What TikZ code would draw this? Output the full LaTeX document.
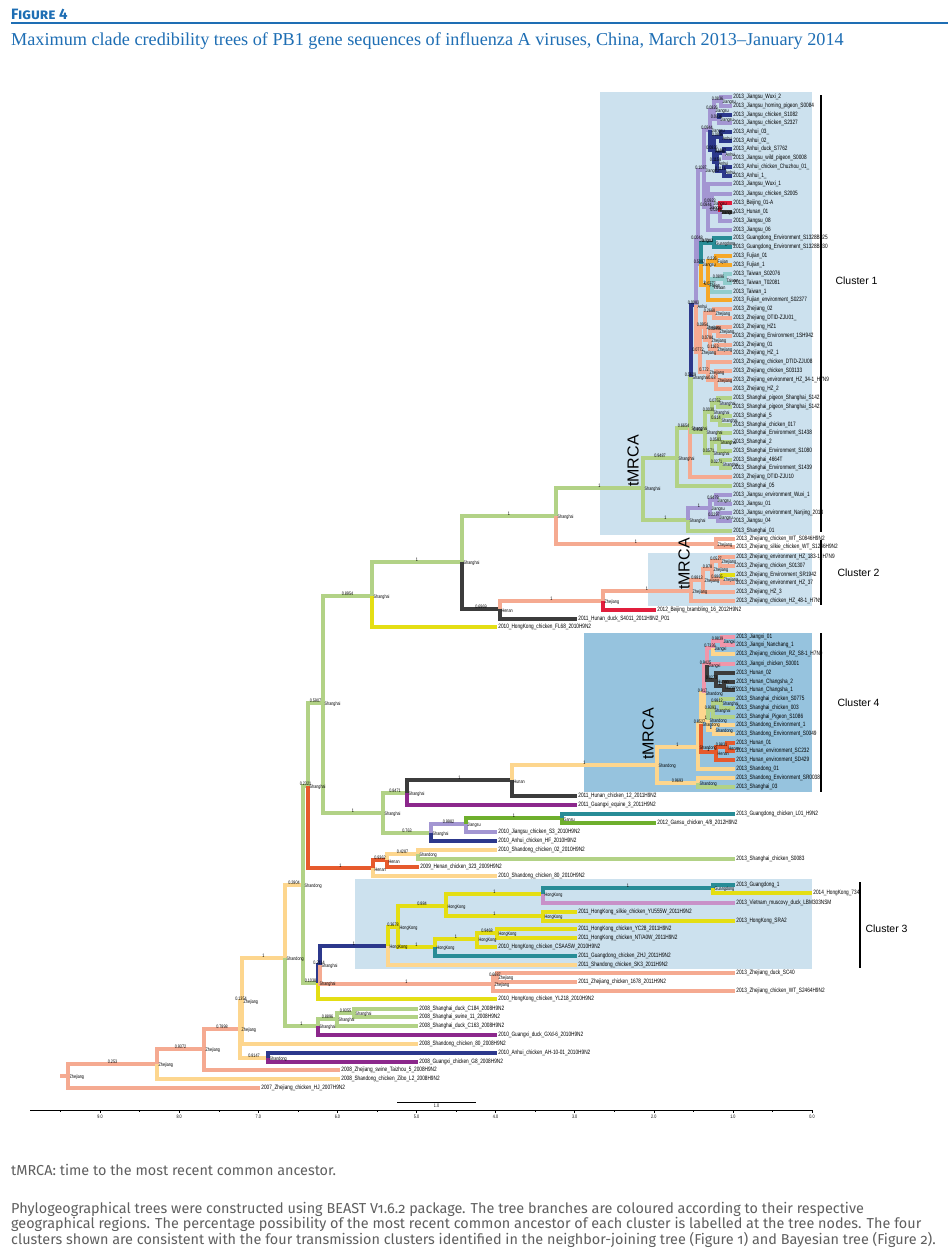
\documentclass[tikz,border=0pt]{standalone}
\usepackage{fontspec}
\setmainfont{Liberation Sans}
\newfontfamily\treefont[FakeStretch=0.75]{Liberation Sans}
\newfontfamily\headfont{Fira Sans}
\newfontfamily\notefont[Numbers=OldStyle]{Fira Sans}
\newfontfamily\subfont{Liberation Serif}

\definecolor{shc}{RGB}{178,210,134}
\definecolor{zjc}{RGB}{245,170,145}
\definecolor{sdc}{RGB}{253,214,142}
\definecolor{jsc}{RGB}{163,150,210}
\definecolor{ahc}{RGB}{44,56,140}
\definecolor{hnc}{RGB}{60,60,60}
\definecolor{hkc}{RGB}{228,222,20}
\definecolor{gxc}{RGB}{140,40,140}
\definecolor{hec}{RGB}{230,90,45}
\definecolor{bjc}{RGB}{225,30,60}
\definecolor{gdc}{RGB}{40,140,150}
\definecolor{gsc}{RGB}{110,175,45}
\definecolor{fjc}{RGB}{246,168,40}
\definecolor{twc}{RGB}{145,205,205}
\definecolor{jxc}{RGB}{240,150,170}
\definecolor{vnc}{RGB}{200,145,200}
\definecolor{boxa}{RGB}{204,225,238}
\definecolor{boxb}{RGB}{150,195,222}
\definecolor{figblue}{RGB}{30,110,180}
\definecolor{notegray}{RGB}{95,95,95}

\pgfdeclarelayer{fg}
\pgfsetlayers{main,fg}

% leaf: name, x, y, colour, parent, text
\newcommand{\tip}[6]{%
  \node[leaf] (#1) at (#2,#3) {#6};
  \draw[br,#4] (#5) |- (#1.west);}
% inner node: name, x, y, colour, parent, posterior, state
\newcommand{\clade}[7]{%
  \coordinate (#1) at (#2,#3);
  \draw[br,#4] (#5) |- (#1);
  \begin{pgfonlayer}{fg}
    \path (#5) |- node[post]{#6} (#1);
    \node[state] at (#1) {#7};
  \end{pgfonlayer}}

\begin{document}
\begin{tikzpicture}[x=1pt,y=-1pt]
    \tikzstyle{br}=[line width=3.4pt]
    \tikzstyle{leaf}=[anchor=west,inner sep=1.2pt,font=\treefont\fontsize{6.3}{6.5}\selectfont]
    \tikzstyle{post}=[pos=0.75,above,inner sep=0.6pt,font=\treefont\fontsize{5}{5}\selectfont]
    \tikzstyle{state}=[anchor=west,xshift=1pt,yshift=-1.5pt,inner sep=0.5pt,font=\treefont\fontsize{5}{5}\selectfont]
    \tikzstyle{clab}=[anchor=west,font=\fontsize{10.5}{12}\selectfont]
    \tikzstyle{tm}=[rotate=90,inner sep=0pt,font=\fontsize{16}{16}\selectfont]
    \tikzstyle{bar}=[line width=1.3pt]
    \tikzstyle{note}=[inner sep=0pt,text=notegray,font=\notefont\fontsize{14.4}{15}\selectfont]
    \useasboundingbox (0,0) rectangle (950,1250);
    \fill[white] (0,0) rectangle (950,1250);

    % heading
    \node[anchor=west,inner sep=0pt,text=figblue,font=\headfont\bfseries\fontsize{15}{16}\selectfont] (fig) at (11,14) {\textsc{Figure 4}};
    \draw[figblue,line width=1.6pt] (11,23) -- (948,23);
    \node[anchor=west,inner sep=0pt,text=figblue,font=\subfont\fontsize{18.2}{19}\selectfont] (subt) at (11,41)
      {Maximum clade credibility trees of PB1 gene sequences of influenza A viruses, China, March 2013–January 2014};

    % cluster boxes
    \fill[boxa] (600,92) rectangle (812,535);
    \fill[boxa] (648,553) rectangle (812,606);
    \fill[boxb] (584,633) rectangle (812,792);
    \fill[boxa] (355,879) rectangle (812,969);

    % backbone
    \coordinate (r00) at (60,1076);
    \coordinate (r0) at (68,1076);
    \draw[br,zjc] (r00) -- (r0);
    \node[state] at (r0) {Zhejiang};
    \clade{n1}{157}{1064}{zjc}{r0}{0.253}{Zhejiang}
    \tip{t2007}{260}{1088}{zjc}{r0}{2007\_Zhejiang\_chicken\_HJ\_2007H9N2}
    \clade{n2}{204}{1049}{zjc}{n1}{0.9372}{Zhejiang}
    \tip{tzibo}{340}{1079}{sdc}{n1}{2008\_Shandong\_chicken\_Zibo\_L2\_2008H9N2}
    \clade{n3}{240}{1029}{zjc}{n2}{0.7898}{Zhejiang}
    \tip{ttaiz}{340}{1070}{zjc}{n2}{2008\_Zhejiang\_swine\_Taizhou\_5\_2008H9N2}
    \clade{n4}{242}{1001}{sdc}{n3}{0.1354}{Zhejiang}
    \clade{n6}{268}{1058}{sdc}{n3}{0.8147}{Shandong}
    \tip{tah10}{497}{1053}{ahc}{n6}{2010\_Anhui\_chicken\_AH-10-01\_2010H9N2}
    \tip{tgx8}{418}{1062}{gxc}{n6}{2008\_Guangxi\_chicken\_G8\_2008H9N2}
    \clade{n5}{285}{958}{sdc}{n4}{1}{Shandong}
    \tip{tsd80}{418}{1044}{sdc}{n4}{2008\_Shandong\_chicken\_80\_2008H9N2}
    \clade{n7}{303}{885}{sdc}{n5}{0.2804}{Shandong}
    \clade{n9}{318}{1026}{shc}{n5}{1}{Shanghai}
    \clade{n9a}{337}{1019}{shc}{n9}{0.8896}{Shanghai}
    \tip{tgxd6}{497}{1035}{gxc}{n9}{2010\_Guangxi\_duck\_GXd-6\_2010H9N2}
    \clade{n9b}{354}{1013}{shc}{n9a}{0.9355}{Shanghai}
    \tip{tc163}{418}{1026}{shc}{n9a}{2008\_Shanghai\_duck\_C163\_2008H9N2}
    \tip{tc184}{418}{1009}{shc}{n9b}{2008\_Shanghai\_duck\_C184\_2008H9N2}
    \tip{tsw11}{418}{1017}{shc}{n9b}{2008\_Shanghai\_swine\_11\_2008H9N2}

    % towards cluster 3
    \clade{n10}{318}{983}{shc}{n7}{0.1038}{Shanghai}
    \clade{n10b}{320}{965}{ahc}{n10}{0.2114}{Shanghai}
    \tip{tyl218}{497}{999}{hkc}{n10}{2010\_HongKong\_chicken\_YL218\_2010H9N2}
    \clade{n12}{493}{984}{zjc}{n10b}{1}{Zhejiang}
    \clade{n12a}{497}{977}{zjc}{n12}{0.6687}{Zhejiang}
    \tip{tsc40}{735}{973}{zjc}{n12a}{2013\_Zhejiang\_duck\_SC40}
    \tip{t1678}{577}{982}{zjc}{n12a}{2011\_Zhejiang\_chicken\_1678\_2011H9N2}
    \tip{twt2464}{735}{991}{zjc}{n12}{2013\_Zhejiang\_chicken\_WT\_S2464H9N2}
    \clade{hk1}{388}{946}{ahc}{n10b}{1}{HongKong}
    \clade{hk2}{398}{927}{hkc}{hk1}{0.3678}{HongKong}
    \tip{tsk3}{577}{965}{sdc}{hk1}{2011\_Shandong\_chicken\_SK3\_2011H9N2}
    \clade{hk3}{446}{906}{hkc}{hk2}{0.884}{HongKong}
    \clade{hk4}{435}{947}{hkc}{hk2}{1}{HongKong}
    \clade{hk5}{543}{894}{hkc}{hk3}{1}{HongKong}
    \clade{hk6}{543}{916}{hkc}{hk3}{1}{HongKong}
    \clade{hk7}{713}{888}{gdc}{hk5}{1}{Guangdong}
    \tip{tgd1}{735}{885}{gdc}{hk7}{2013\_Guangdong\_1}
    \tip{thk734}{812}{893}{hkc}{hk7}{2014\_HongKong\_734}
    \tip{tvn}{735}{903}{vnc}{hk5}{2013\_Vietnam\_muscovy\_duck\_LBM303NSM}
    \tip{tyu555}{577}{912}{hkc}{hk6}{2011\_HongKong\_silkie\_chicken\_YU555W\_2011H9N2}
    \tip{tsra2}{735}{921}{hkc}{hk6}{2013\_HongKong\_SRA2}
    \clade{hk8}{477}{939}{hkc}{hk4}{1}{HongKong}
    \tip{tzhj}{577}{956}{gdc}{hk4}{2011\_Guangdong\_chicken\_ZHJ\_2011H9N2}
    \clade{hk9}{497}{933}{hkc}{hk8}{0.9468}{HongKong}
    \tip{tcsaa}{497}{947}{hkc}{hk8}{2010\_HongKong\_chicken\_CSAA5W\_2010H9N2}
    \tip{tyc28}{577}{929}{hkc}{hk9}{2011\_HongKong\_chicken\_YC28\_2011H9N2}
    \tip{tnta}{577}{938}{hkc}{hk9}{2011\_HongKong\_chicken\_NT/A0W\_2011H9N2}

    % Shanghai lineage
    \clade{A}{308}{786}{shc}{n7}{0.2321}{Shanghai}
    \clade{B}{323}{703}{shc}{A}{0.5907}{Shanghai}
    \clade{h1}{373}{868}{hec}{A}{1}{Henan}
    \clade{h2}{387}{860}{hec}{h1}{0.9362}{Henan}
    \tip{tsd80b}{497}{876}{sdc}{h1}{2010\_Shandong\_chicken\_80\_2010H9N2}
    \clade{h3}{418}{854}{sdc}{h2}{0.4287}{Shandong}
    \tip{the323}{419}{867}{hec}{h2}{2009\_Henan\_chicken\_323\_2009H9N2}
    \tip{tsd02}{497}{850}{sdc}{h3}{2010\_Shandong\_chicken\_02\_2010H9N2}
    \tip{ts0083}{735}{859}{shc}{h3}{2013\_Shanghai\_chicken\_S0083}
    \clade{D}{372}{596}{shc}{B}{0.8954}{Shanghai}
    \clade{C}{383}{813}{shc}{B}{1}{Shanghai}
    \clade{C1}{407}{793}{shc}{C}{0.8471}{Shanghai}
    \clade{C2}{431}{833}{shc}{C}{0.763}{Shanghai}
    \clade{C1a}{512}{780}{hnc}{C1}{1}{Hunan}
    \tip{tgxe3}{577}{805}{gxc}{C1}{2011\_Guangxi\_equine\_3\_2011H9N2}
    \tip{thn12}{577}{796}{hnc}{C1a}{2011\_Hunan\_chicken\_12\_2011H9N2}
    \clade{C3}{466}{824}{jsc}{C2}{0.9982}{Jiangsu}
    \tip{thf}{497}{841}{ahc}{C2}{2010\_Anhui\_chicken\_HF\_2010H9N2}
    \clade{C4}{562}{818}{gsc}{C3}{1}{Gansu}
    \tip{ts3}{497}{832}{jsc}{C3}{2010\_Jiangsu\_chicken\_S3\_2010H9N2}
    \tip{tl01}{735}{814}{gdc}{C4}{2013\_Guangdong\_chicken\_L01\_H9N2}
    \tip{tgs}{656}{823}{gsc}{C4}{2012\_Gansu\_chicken\_4/8\_2012H9N2}

    % cluster 4
    \clade{K0}{657}{765}{sdc}{C1a}{1}{Shandong}
    \clade{K1}{698}{747}{sdc}{K0}{1}{Shandong}
    \clade{K2}{698}{783}{sdc}{K0}{0.9693}{Shandong}
    \tip{tsr38}{735}{778}{sdc}{K2}{2013\_Shandong\_Environment\_SR0038}
    \tip{tsh03}{735}{787}{shc}{K2}{2013\_Shanghai\_03}
    \clade{K3}{701}{724}{sdc}{K1}{0.8527}{Shandong}
    \tip{tsd01}{735}{769}{sdc}{K1}{2013\_Shandong\_01}
    \clade{K4}{704}{693}{sdc}{K3}{0.917}{Shandong}
    \clade{K5}{716}{752}{hec}{K3}{1}{Henan}
    \clade{K5a}{727}{747}{hec}{K5}{0.9831}{Henan}
    \tip{thu01}{735}{743}{hec}{K5a}{2013\_Hunan\_01}
    \tip{tsc232}{735}{751}{hec}{K5a}{2013\_Hunan\_environment\_SC232}
    \tip{tsd429}{735}{760}{hec}{K5}{2013\_Hunan\_environment\_SD429}
    \clade{K6}{707}{665}{jxc}{K4}{0.9425}{Jiangxi}
    \clade{K7}{708}{720}{sdc}{K4}{1}{Shandong}
    \clade{K8}{713}{648}{jxc}{K6}{0.7336}{Jiangxi}
    \clade{K8a}{722}{641}{jxc}{K8}{0.9839}{Jiangxi}
    \tip{tjx01}{735}{637}{jxc}{K8a}{2013\_Jiangxi\_01}
    \tip{tjxn}{735}{645}{jxc}{K8a}{2013\_Jiangxi\_Nanchang\_1}
    \tip{trz}{735}{654}{sdc}{K8}{2013\_Zhejiang\_chicken\_RZ\_S8-1\_H7N9}
    \tip{tjxc}{735}{664}{jxc}{K6}{2013\_Jiangxi\_chicken\_S0001}
    \clade{K9}{716}{680}{hnc}{K6}{0.8273}{Hunan}
    \tip{thu02}{735}{673}{hnc}{K9}{2013\_Hunan\_02}
    \clade{K9a}{724}{686}{hnc}{K9}{1}{Hunan}
    \tip{tcs2}{735}{682}{hnc}{K9a}{2013\_Hunan\_Changsha\_2}
    \tip{tcs1}{735}{690}{hnc}{K9a}{2013\_Hunan\_Changsha\_1}
    \clade{K10}{713}{710}{shc}{K7}{0.9393}{Shanghai}
    \clade{K10a}{721}{703}{shc}{K10}{0.9812}{Shanghai}
    \tip{ts775}{735}{699}{shc}{K10a}{2013\_Shanghai\_chicken\_S0775}
    \tip{ts003}{735}{708}{shc}{K10a}{2013\_Shanghai\_chicken\_003}
    \tip{tspg}{735}{717}{shc}{K10}{2013\_Shanghai\_Pigeon\_S1086}
    \clade{K11}{714}{730}{sdc}{K7}{1}{Shandong}
    \tip{tse1}{735}{725}{sdc}{K11}{2013\_Shandong\_Environment\_1}
    \tip{tse49}{735}{734}{sdc}{K11}{2013\_Shandong\_Environment\_S0049}

    % towards clusters 1 and 2
    \clade{E}{462}{562}{shc}{D}{1}{Shanghai}
    \tip{tfl68}{497}{627}{hkc}{D}{2010\_HongKong\_chicken\_FL68\_2010H9N2}
    \clade{L}{556}{516}{shc}{E}{1}{Shanghai}
    \clade{F}{500}{609}{hnc}{E}{0.6969}{Henan}
    \clade{G}{603}{601}{zjc}{F}{1}{Zhejiang}
    \tip{ts4011}{577}{619}{hnc}{F}{2011\_Hunan\_duck\_S4011\_2011H9N2\_P01}
    \tip{tbj16}{656}{610}{bjc}{G}{2012\_Beijing\_brambling\_16\_2012H9N2}

    % cluster 2
    \clade{H}{691}{591}{zjc}{G}{1}{Zhejiang}
    \clade{H2}{703}{580}{zjc}{H}{0.8813}{Zhejiang}
    \tip{thz48}{735}{601}{zjc}{H}{2013\_Zhejiang\_chicken\_HZ\_48-1\_H7N9}
    \clade{H3}{712}{569}{zjc}{H2}{0.978}{Zhejiang}
    \tip{thz3}{735}{592}{zjc}{H2}{2013\_Zhejiang\_HZ\_3}
    \clade{H4}{720}{561}{zjc}{H3}{0.0527}{Zhejiang}
    \clade{H5}{722}{579}{zjc}{H3}{0.8865}{Zhejiang}
    \tip{t183}{735}{557}{zjc}{H4}{2013\_Zhejiang\_environment\_HZ\_183-1\_H7N9}
    \tip{ts1307}{735}{566}{zjc}{H4}{2013\_Zhejiang\_chicken\_S01307}
    \tip{tsr1942}{735}{575}{hkc}{H5}{2013\_Zhejiang\_Environment\_SR1942}
    \tip{thz37}{735}{583}{zjc}{H5}{2013\_Zhejiang\_environment\_HZ\_37}
    \clade{M}{716}{544}{zjc}{L}{1}{Zhejiang}
    \tip{twt846}{735}{539}{zjc}{M}{2013\_Zhejiang\_chicken\_WT\_S0846H9N2}
    \tip{tsilk}{735}{547}{zjc}{M}{2013\_Zhejiang\_silkie\_chicken\_WT\_S1246H9N2}

    % cluster 1
    \clade{N1}{643}{488}{shc}{L}{1}{Shanghai}
    \clade{O}{677}{458}{shc}{N1}{0.9487}{Shanghai}
    \clade{P1}{688}{520}{shc}{N1}{1}{Shanghai}
    \clade{P2}{710}{508}{jsc}{P1}{1}{Jiangsu}
    \tip{tsh01}{732}{531}{shc}{P1}{2013\_Shanghai\_01}
    \clade{P3}{716}{500}{jsc}{P2}{0.9479}{Jiangsu}
    \clade{P4}{718}{517}{jsc}{P2}{0.2297}{Jiangsu}
    \tip{twx1e}{732}{495}{jsc}{P3}{2013\_Jiangsu\_environment\_Wuxi\_1}
    \tip{tjs01}{732}{504}{jsc}{P3}{2013\_Jiangsu\_01}
    \tip{tnj}{732}{513}{jsc}{P4}{2013\_Jiangsu\_environment\_Nanjing\_2013}
    \tip{tjs04}{732}{521}{jsc}{P4}{2013\_Jiangsu\_04}
    \clade{Q}{690}{428}{shc}{O}{0.6654}{Shanghai}
    \tip{tsh05}{732}{486}{shc}{O}{2013\_Shanghai\_05}
    \clade{R}{691}{377}{shc}{Q}{0.5629}{Shanghai}
    \tip{tzju10}{732}{477}{zjc}{Q}{2013\_Zhejiang\_DTID-ZJU10}
    \clade{S}{705}{432}{shc}{R}{0.958}{Shanghai}
    \clade{S1}{712}{412}{shc}{S}{0.0030}{Shanghai}
    \clade{S2}{712}{453}{shc}{S}{0.0571}{Shanghai}
    \clade{S1a}{718}{403}{shc}{S1}{0.0752}{Shanghai}
    \clade{S1b}{720}{420}{shc}{S1}{0.814}{Shanghai}
    \tip{tpg21}{732}{398}{shc}{S1a}{2013\_Shanghai\_pigeon\_Shanghai\_S1421}
    \tip{tpg23}{732}{407}{shc}{S1a}{2013\_Shanghai\_pigeon\_Shanghai\_S1423}
    \tip{tsh5}{732}{416}{shc}{S1b}{2013\_Shanghai\_5}
    \tip{tch017}{732}{425}{shc}{S1b}{2013\_Shanghai\_chicken\_017}
    \clade{S2a}{719}{442}{shc}{S2}{0.0583}{Shanghai}
    \clade{S2b}{721}{464}{shc}{S2}{0.0271}{Shanghai}
    \tip{te1438}{732}{433}{shc}{S2a}{2013\_Shanghai\_Environment\_S1438}
    \tip{tsh2}{732}{442}{shc}{S2a}{2013\_Shanghai\_2}
    \tip{te1080}{732}{451}{shc}{S2a}{2013\_Shanghai\_Environment\_S1080}
    \tip{t4664}{732}{460}{shc}{S2b}{2013\_Shanghai\_4664T}
    \tip{te1439}{732}{468}{shc}{S2b}{2013\_Shanghai\_Environment\_S1439}
    \clade{R1}{696}{305}{ahc}{R}{0.0083}{Anhui}
    \clade{T}{698}{240}{jsc}{R1}{0.0048}{Jiangsu}
    \clade{Z}{700}{352}{zjc}{R1}{0.0772}{Zhejiang}
    \clade{Z1}{705}{327}{zjc}{Z}{0.0954}{Zhejiang}
    \clade{Z2}{708}{372}{zjc}{Z}{0.772}{Zhejiang}
    \clade{Z1a}{714}{313}{zjc}{Z1}{0.2668}{Zhejiang}
    \tip{tzj02}{732}{309}{zjc}{Z1a}{2013\_Zhejiang\_02}
    \tip{tzju01}{732}{318}{zjc}{Z1a}{2013\_Zhejiang\_DTID-ZJU01\_}
    \clade{Z1b}{710}{340}{zjc}{Z1}{0.0784}{Zhejiang}
    \clade{Z1c}{718}{331}{zjc}{Z1b}{0.2989}{Zhejiang}
    \tip{thz1a}{732}{327}{zjc}{Z1c}{2013\_Zhejiang\_HZ1}
    \tip{tzje}{732}{336}{zjc}{Z1c}{2013\_Zhejiang\_Environment\_1SH942}
    \clade{Z1d}{716}{349}{zjc}{Z1b}{0.1163}{Zhejiang}
    \tip{tzj01}{732}{345}{zjc}{Z1d}{2013\_Zhejiang\_01}
    \tip{thz1}{732}{353}{zjc}{Z1d}{2013\_Zhejiang\_HZ\_1}
    \tip{tzju08}{732}{362}{zjc}{Z2}{2013\_Zhejiang\_chicken\_DTID-ZJU08}
    \clade{Z2a}{716}{380}{zjc}{Z2}{0.68}{Zhejiang}
    \tip{ts3133}{732}{371}{zjc}{Z2a}{2013\_Zhejiang\_chicken\_S03133}
    \tip{thz34}{732}{380}{zjc}{Z2a}{2013\_Zhejiang\_environment\_HZ\_34-1\_H7N9}
    \tip{thz2}{732}{389}{zjc}{Z2a}{2013\_Zhejiang\_HZ\_2}
    \clade{T1}{704}{170}{jsc}{T}{0.1087}{Jiangsu}
    \clade{T2}{701}{264}{jsc}{T}{0.5097}{Jiangsu}
    \clade{T2a}{714}{243}{gdc}{T2}{0.7312}{Guangdong}
    \tip{tgde25}{732}{238}{gdc}{T2a}{2013\_Guangdong\_Environment\_S1328B025}
    \tip{tgde30}{732}{247}{gdc}{T2a}{2013\_Guangdong\_Environment\_S1328B030}
    \clade{T2b}{708}{285}{fjc}{T2}{1}{Fujian}
    \clade{T2c}{716}{261}{fjc}{T2b}{0.226}{Fujian}
    \tip{tfj01}{732}{256}{fjc}{T2c}{2013\_Fujian\_01}
    \tip{tfj1}{732}{265}{fjc}{T2c}{2013\_Fujian\_1}
    \clade{T2d}{712}{286}{twc}{T2b}{0.0777}{Taiwan}
    \clade{T2e}{725}{279}{twc}{T2d}{0.0896}{Taiwan}
    \tip{ttw76}{732}{274}{twc}{T2e}{2013\_Taiwan\_S02076}
    \tip{ttw81}{732}{283}{twc}{T2e}{2013\_Taiwan\_T02081}
    \tip{ttw1}{732}{292}{twc}{T2d}{2013\_Taiwan\_1}
    \tip{tfje}{732}{300}{fjc}{T2b}{2013\_Fujian\_environment\_S02377}
    \clade{T1a}{710}{130}{jsc}{T1}{0.0944}{Jiangsu}
    \clade{T1b}{708}{207}{jsc}{T1}{0.0844}{Jiangsu}
    \clade{T1c}{714}{110}{jsc}{T1a}{0.0826}{Jiangsu}
    \clade{T1c1}{721}{101}{jsc}{T1c}{0.0836}{Jiangsu}
    \tip{twx2}{732}{97}{jsc}{T1c1}{2013\_Jiangsu\_Wuxi\_2}
    \tip{thp}{732}{106}{jsc}{T1c1}{2013\_Jiangsu\_homing\_pigeon\_S0084}
    \clade{T1c2}{719}{119}{jsc}{T1c}{0.0936}{Jiangsu}
    \tip{tjc82}{732}{115}{ahc}{T1c2}{2013\_Jiangsu\_chicken\_S1082}
    \tip{tjc27}{732}{123}{jsc}{T1c2}{2013\_Jiangsu\_chicken\_S2327}
    \clade{T1d}{714}{150}{ahc}{T1a}{0.0836}{Anhui}
    \clade{T1d1}{721}{137}{ahc}{T1d}{0.0936}{Anhui}
    \tip{tah03}{732}{132}{ahc}{T1d1}{2013\_Anhui\_03\_}
    \tip{tah02}{732}{141}{ahc}{T1d1}{2013\_Anhui\_02\_}
    \clade{T1d2}{717}{162}{ahc}{T1d}{0.1158}{Anhui}
    \clade{T1d3}{724}{153}{ahc}{T1d2}{0.1087}{Anhui}
    \tip{tahd}{732}{149}{ahc}{T1d3}{2013\_Anhui\_duck\_S7762}
    \tip{twp}{732}{158}{jsc}{T1d3}{2013\_Jiangsu\_wild\_pigeon\_S0008}
    \clade{T1d4}{724}{171}{ahc}{T1d2}{0.1116}{Anhui}
    \tip{tcz}{732}{167}{ahc}{T1d4}{2013\_Anhui\_chicken\_Chuzhou\_01\_}
    \tip{tah1}{732}{176}{ahc}{T1d4}{2013\_Anhui\_1\_}
    \tip{twx1}{732}{184}{jsc}{T1b}{2013\_Jiangsu\_Wuxi\_1}
    \clade{T1b1}{712}{203}{jsc}{T1b}{0.0923}{Jiangsu}
    \tip{tjc05}{732}{194}{jsc}{T1b1}{2013\_Jiangsu\_chicken\_S2005}
    \clade{T1b2}{720}{212}{jsc}{T1b1}{0.0844}{Jiangsu}
    \tip{tbj01}{732}{203}{bjc}{T1b2}{2013\_Beijing\_01-A}
    \tip{thun01}{732}{212}{hnc}{T1b2}{2013\_Hunan\_01}
    \tip{tjs08}{732}{221}{jsc}{T1b2}{2013\_Jiangsu\_08}
    \tip{tjs06}{732}{230}{jsc}{T1b}{2013\_Jiangsu\_06}

    % tMRCA marks
    \node[tm] (tm1) at (633,461) {tMRCA};
    \node[tm] (tm2) at (684,564) {tMRCA};
    \node[tm] (tm4) at (648,734) {tMRCA};

    % cluster bars and labels
    \draw[bar] (821,95) -- (821,532);
    \draw[bar] (821,540) -- (821,605);
    \draw[bar] (821,633) -- (821,792);
    \draw[bar] (860,882) -- (860,968);
    \node[clab] (cl1) at (832,281) {Cluster 1};
    \node[clab] (cl2) at (834,573) {Cluster 2};
    \node[clab] (cl4) at (834,703) {Cluster 4};
    \node[clab] (cl3) at (862,929) {Cluster 3};

    % time axis
    \draw[line width=0.6pt] (30,1110) -- (812,1110);
    \foreach \k in {0,...,9} {
      \draw[line width=0.5pt] ({812-79.1*\k},1110) -- ++(0,3)
        node[below,inner sep=1.5pt,font=\treefont\fontsize{5}{5}\selectfont] {\k.0};
      \draw[line width=0.5pt] ({812-79.1*(\k+0.5)},1110) -- ++(0,2);
    }
    \draw[line width=0.6pt] (397,1102) -- node[below,inner sep=1.5pt,font=\treefont\fontsize{5}{5}\selectfont] {1.0} (476,1102);

    % notes
    \node[note,anchor=west] (tmn) at (11,1170) {tMRCA: time to the most recent common ancestor.};
    \node[note,anchor=north west,align=left] (para) at (11,1202)
      {Phylogeographical trees were constructed using BEAST V1.6.2 package. The tree branches are coloured according to their respective\\
       geographical regions. The percentage possibility of the most recent common ancestor of each cluster is labelled at the tree nodes. The four\\
       clusters shown are consistent with the four transmission clusters identified in the neighbor-joining tree (Figure 1) and Bayesian tree (Figure 2).};
\end{tikzpicture}
\end{document}
